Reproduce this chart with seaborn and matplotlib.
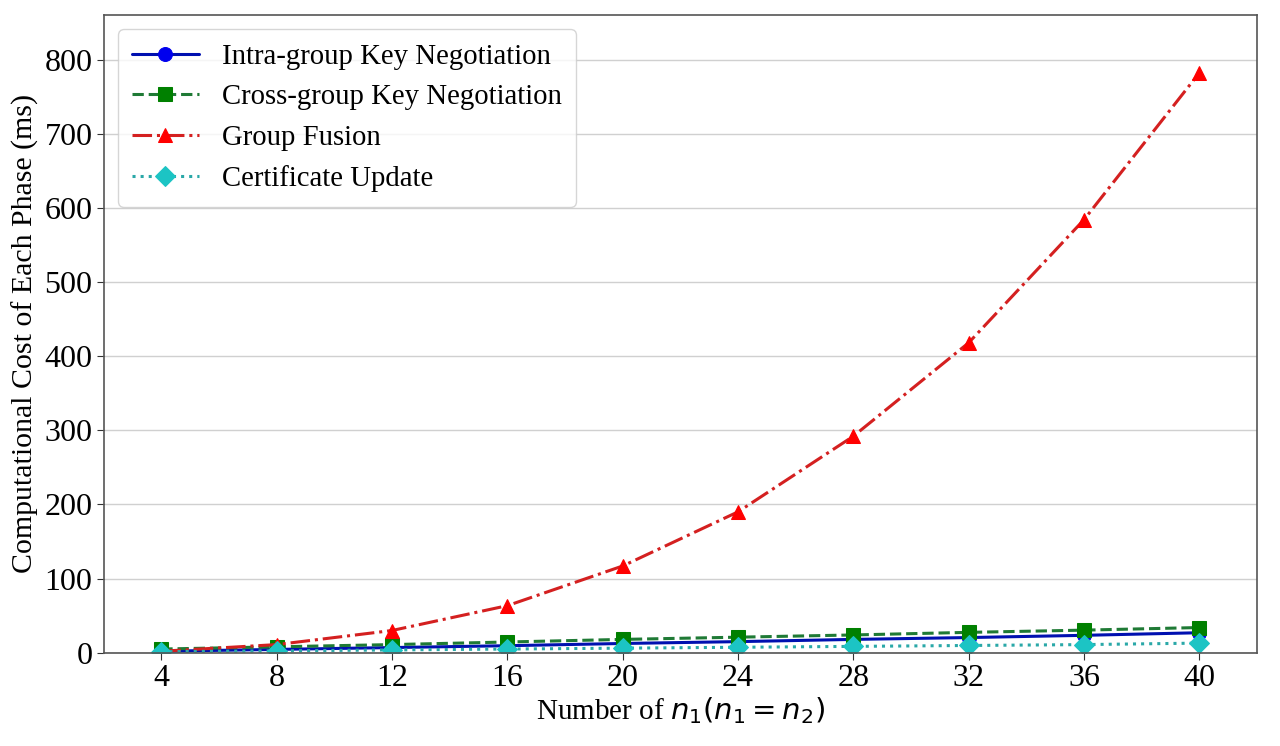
import numpy as np
import pandas as pd
import matplotlib
matplotlib.use("Agg")
import matplotlib.pyplot as plt
import seaborn as sns

# x values: number of members n1 (n1 = n2)
n_values = [4, 8, 12, 16, 20, 24, 28, 32, 36, 40]

# computational cost (ms) of each phase
intra_group = [2.0, 4.5, 7.0, 9.5, 12.5, 15.0, 18.0, 20.5, 23.5, 27.0]
cross_group = [5.0, 8.0, 11.0, 14.5, 18.0, 21.0, 24.0, 27.5, 30.5, 34.0]
group_fusion = [2.0, 11.0, 30.0, 63.5, 117.0, 190.0, 292.0, 418.0, 584.0, 782.0]
cert_update = [1.5, 2.5, 3.8, 5.0, 6.2, 7.4, 8.6, 9.8, 11.0, 13.0]

series_names = [
    "Intra-group Key Negotiation",
    "Cross-group Key Negotiation",
    "Group Fusion",
    "Certificate Update",
]

df = pd.DataFrame({
    "n": n_values * 4,
    "cost": intra_group + cross_group + group_fusion + cert_update,
    "phase": np.repeat(series_names, len(n_values)),
})

sns.set_style("white")
plt.rcParams["font.family"] = ["Liberation Serif", "DejaVu Serif"]
plt.rcParams["mathtext.fontset"] = "dejavusans"
plt.rcParams["text.color"] = "black"
plt.rcParams["axes.labelcolor"] = "black"
plt.rcParams["xtick.color"] = "black"
plt.rcParams["ytick.color"] = "black"

styles = {
    "Intra-group Key Negotiation": dict(line="#0010b0", face="#0000ee", marker="o", ls="-"),
    "Cross-group Key Negotiation": dict(line="#1f7a35", face="#008000", marker="s", ls="--"),
    "Group Fusion": dict(line="#d42020", face="#ff0000", marker="^", ls="-."),
    "Certificate Update": dict(line="#2aa8a8", face="#1cc4c4", marker="D", ls=":"),
}

fig, ax = plt.subplots(figsize=(12.8, 7.46), dpi=100)
fig.subplots_adjust(left=0.081, right=0.982, top=0.98, bottom=0.125)

for name in series_names:
    st = styles[name]
    sub = df[df["phase"] == name]
    sns.lineplot(data=sub, x="n", y="cost", ax=ax, color=st["line"],
                 linestyle=st["ls"], linewidth=2.2, marker=st["marker"],
                 markersize=10, markerfacecolor=st["face"],
                 markeredgecolor=st["face"], label=name)

ax.set_xlim(2, 42)
ax.set_ylim(0, max(group_fusion) * 1.1)
ax.set_xticks(n_values)
ax.set_yticks(range(0, 900, 100))
ax.tick_params(axis="both", labelsize=23, length=5, color="#333333",
               direction="out", bottom=True, left=True, pad=3)
ax.grid(True, axis="y", color="#d0d0d0", linewidth=1.0)
ax.grid(False, axis="x")
for sp in ax.spines.values():
    sp.set_color("#555555")
    sp.set_linewidth(1.2)

ax.set_xlabel("Number of $n_1(n_1=n_2)$", fontsize=21, labelpad=2)
ax.set_ylabel("Computational Cost of Each Phase (ms)", fontsize=21.5, labelpad=4)

leg = ax.legend(loc="upper left", fontsize=20.7, frameon=True, fancybox=True,
                borderpad=0.5, handlelength=2.3, labelspacing=0.5,
                borderaxespad=0.5, bbox_to_anchor=(0.0, 1.0))
leg.get_frame().set_edgecolor("#cccccc")

fig.savefig("out.png", dpi=100)
plt.close(fig)
